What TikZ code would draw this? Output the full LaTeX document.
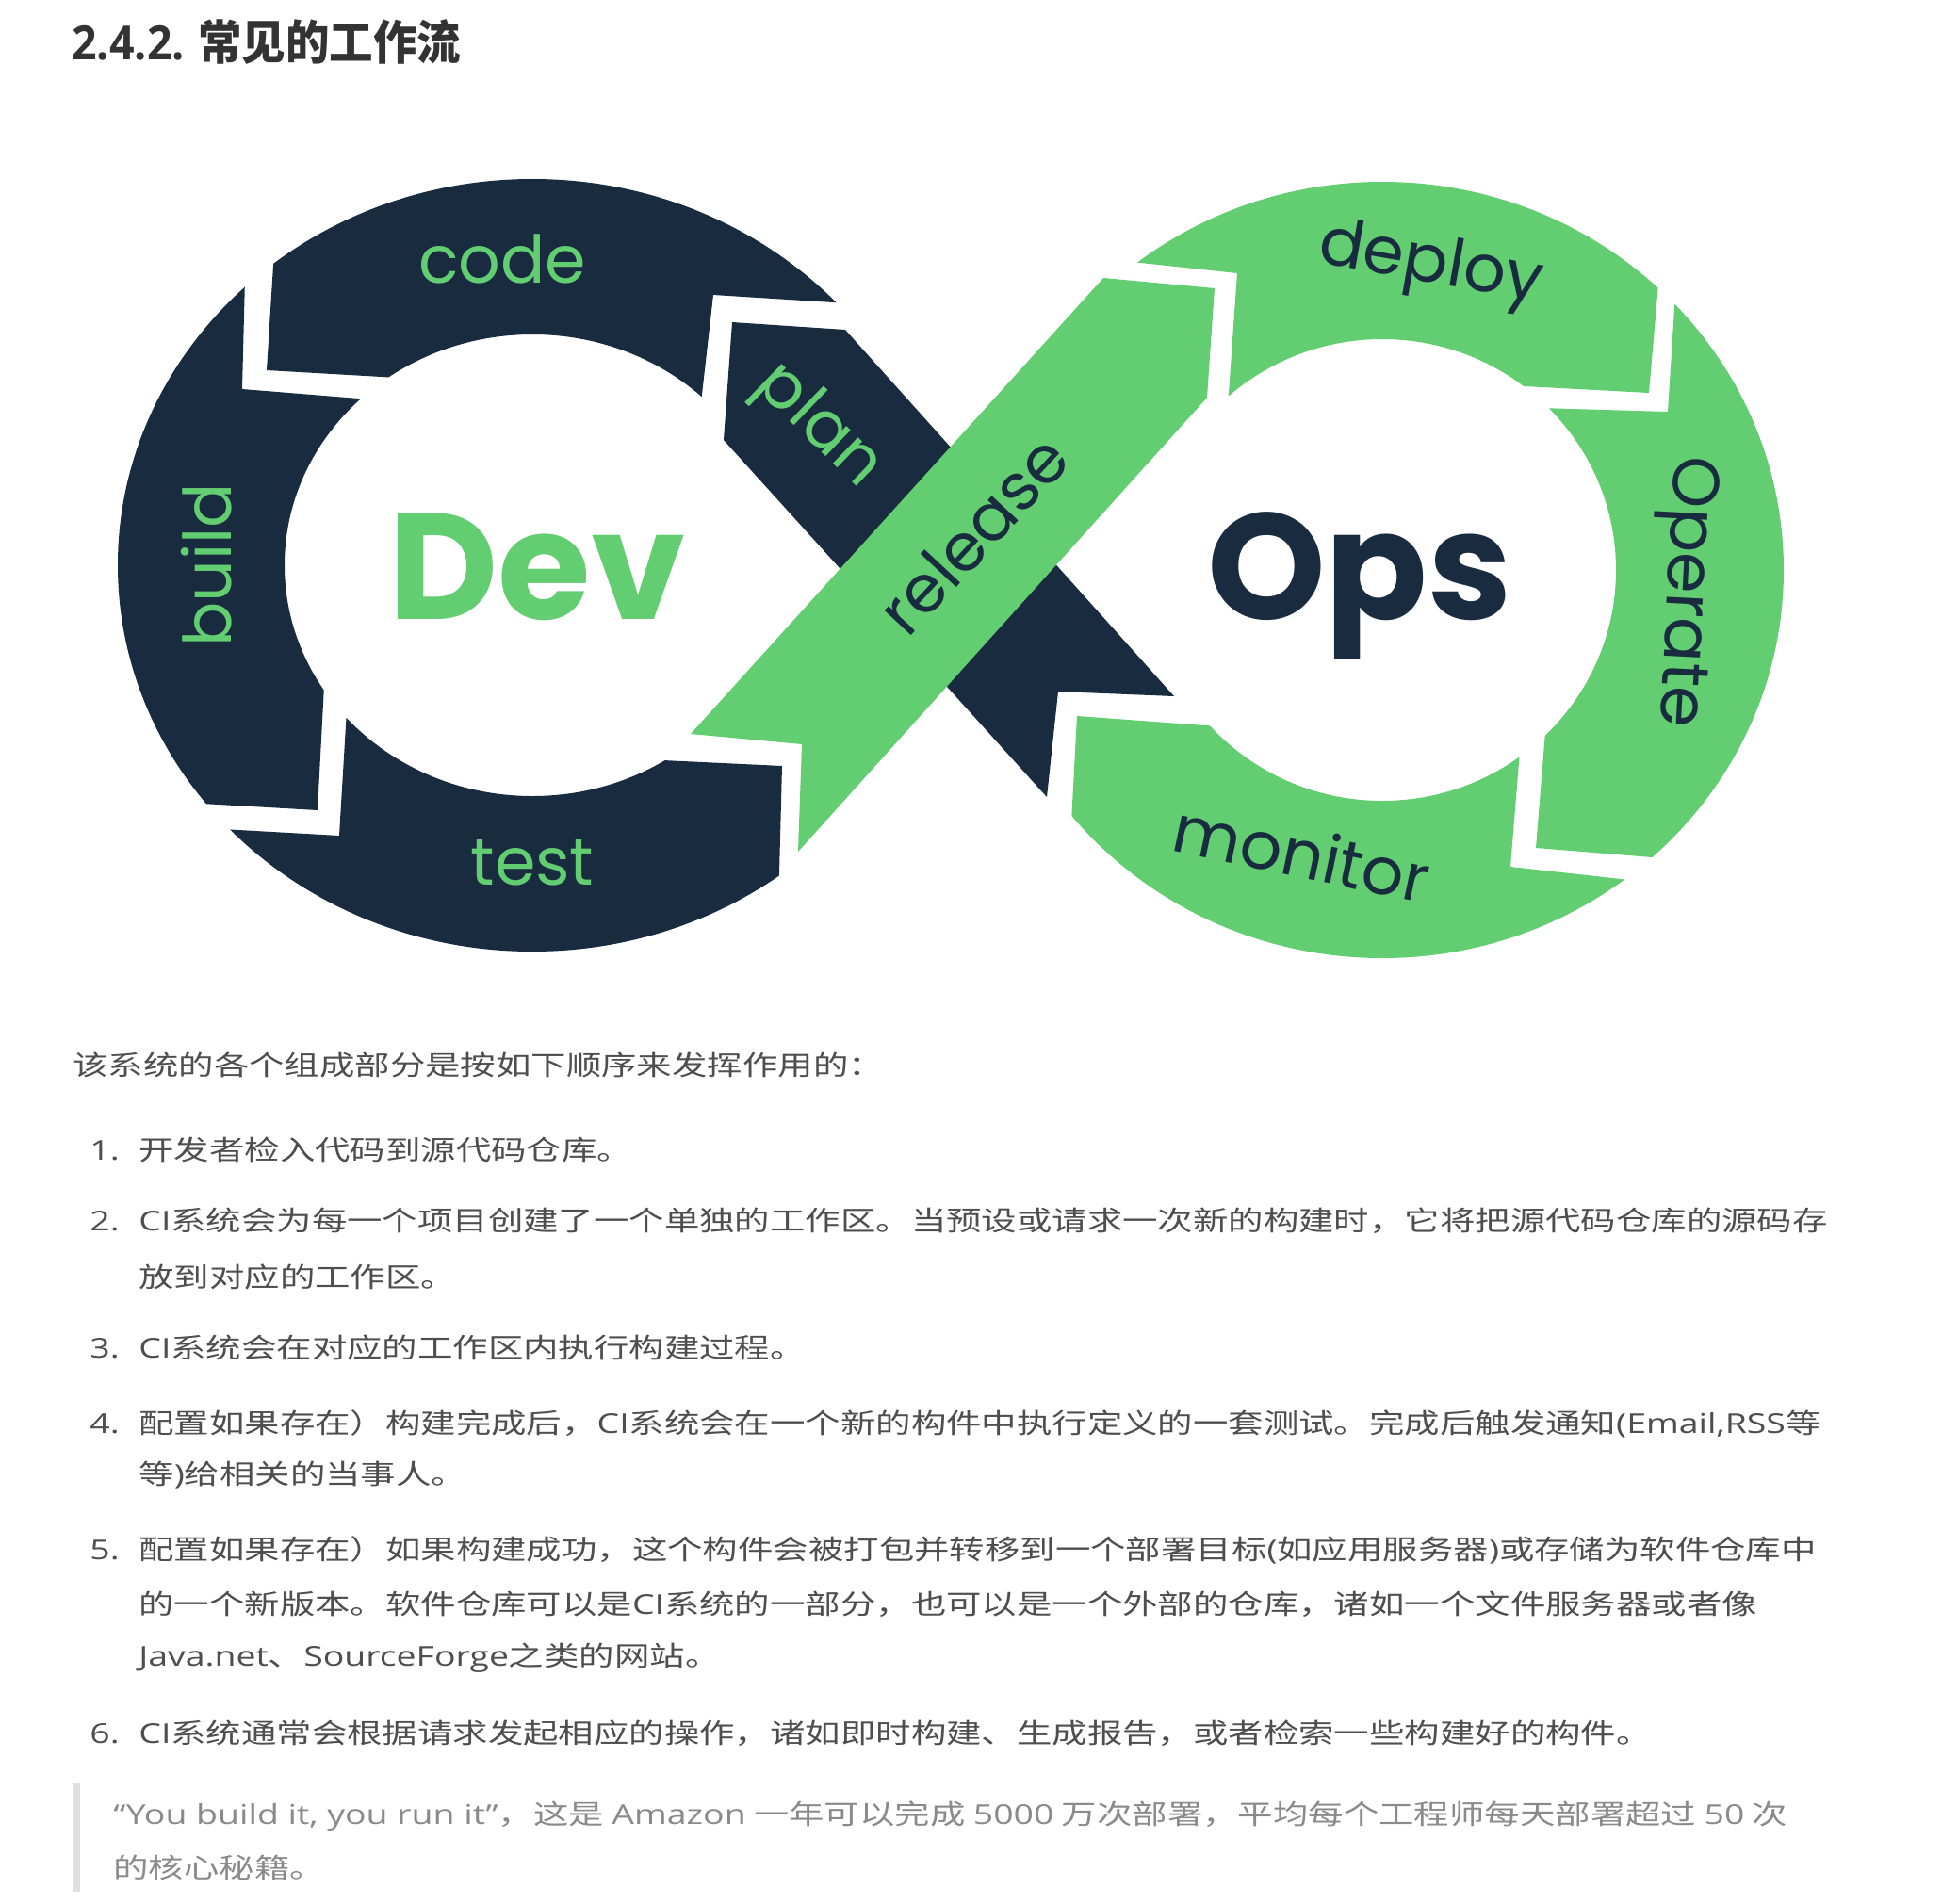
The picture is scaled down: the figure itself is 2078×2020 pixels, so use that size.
\documentclass[tikz,border=0pt]{standalone}
\usepackage{fontspec}
\usepackage{tikz}
\usetikzlibrary{positioning}
\newfontfamily\cjk{Noto Sans CJK SC}
\newfontfamily\opens{Open Sans}
\newfontfamily\pop{Poppins}
\definecolor{devnavy}{RGB}{25,43,63}
\definecolor{opsgreen}{RGB}{98,205,113}
\definecolor{headgray}{RGB}{51,51,51}
\definecolor{bodygray}{RGB}{78,78,78}
\definecolor{quotegray}{RGB}{138,138,138}
\definecolor{bargray}{RGB}{224,224,224}
\newcommand{\wide}[1]{\scalebox{1.29}[1]{#1}}
\newcommand{\en}[1]{{\opens #1}}
\tikzstyle{stage} = [inner sep=0, font=\pop\fontsize{35}{40}\selectfont]
\tikzstyle{big} = [inner sep=0, anchor=base, font=\pop\bfseries\fontsize{80}{90}\selectfont]
\tikzstyle{heading} = [anchor=base west, inner sep=0, text=headgray, font=\cjk\bfseries\fontsize{25}{28}\selectfont]
\tikzstyle{body} = [anchor=base west, inner sep=0, text=bodygray, font=\cjk\fontsize{14.5}{17}\selectfont]
\tikzstyle{quote} = [body, text=quotegray]

\begin{document}
\begin{tikzpicture}[x=0.5pt, y=-0.5pt]
	\useasboundingbox (0,0) rectangle (2078,2020);
	%Title
	\node [heading] (head) at (76,63) {\scalebox{0.93}[1]{{\opens\bfseries 2.4.2.} 常见的工作流}};

	%Dev ring: code, build, test
	\begin{scope}
		\clip (299,140) -- (283,393) -- (440,402) -- (565,600) -- (738,480) -- (757,313) -- (980,327) -- (980,140) -- cycle;
		\fill [devnavy, even odd rule] (565,600) ellipse [x radius=440, y radius=410] (565,600) ellipse [x radius=263, y radius=245];
	\end{scope}
	\begin{scope}
		\clip (264,140) -- (257,413) -- (430,427) -- (565,600) -- (346,690) -- (337,860) -- (40,843) -- (40,140) -- cycle;
		\fill [devnavy, even odd rule] (565,600) ellipse [x radius=440, y radius=410] (565,600) ellipse [x radius=263, y radius=245];
	\end{scope}
	\begin{scope}
		\clip (40,869) -- (360,887) -- (370,720) -- (565,600) -- (640,804) -- (830,813) -- (823,1080) -- (40,1080) -- cycle;
		\fill [devnavy, even odd rule] (565,600) ellipse [x radius=440, y radius=410] (565,600) ellipse [x radius=263, y radius=245];
	\end{scope}

	%Ops ring: deploy, operate, monitor
	\begin{scope}
		\clip (1080,265) -- (1313,290) -- (1301,460) -- (1467,605) -- (1580,408) -- (1750,417) -- (1774,140) -- (1080,140) -- cycle;
		\fill [opsgreen, even odd rule] (1467,605) ellipse [x radius=426, y radius=412] (1467,605) ellipse [x radius=248, y radius=245];
	\end{scope}
	\begin{scope}
		\clip (1789,140) -- (1770,437) -- (1600,432) -- (1467,605) -- (1643,740) -- (1630,900) -- (2000,930) -- (2000,140) -- cycle;
		\fill [opsgreen, even odd rule] (1467,605) ellipse [x radius=426, y radius=412] (1467,605) ellipse [x radius=248, y radius=245];
	\end{scope}
	\begin{scope}
		\clip (2000,964) -- (1603,920) -- (1616,760) -- (1467,605) -- (1320,773) -- (1143,760) -- (1126,1080) -- (2000,1080) -- cycle;
		\fill [opsgreen, even odd rule] (1467,605) ellipse [x radius=426, y radius=412] (1467,605) ellipse [x radius=248, y radius=245];
	\end{scope}

	%Crossing bands: plan under release
	\fill [devnavy] (777,342) -- (897,350) -- (1246,739) -- (1123,734) -- (1111,846) -- (768,467) -- cycle;
	\fill [opsgreen] (733,779) -- (851,790) -- (847,904) -- (1281,422) -- (1289,306) -- (1171,295) -- cycle;

	%Stage labels
	\node [stage, anchor=base, text=opsgreen] (code) at (533,300) {code};
	\node [stage, anchor=base, text=opsgreen, rotate=90] (build) at (245,600) {build};
	\node [stage, anchor=base, text=opsgreen] (test) at (565,939) {test};
	\node [stage, text=opsgreen, rotate=-44] (plan) at (868,453) {plan};
	\node [stage, text=devnavy, rotate=47] (release) at (1033,567) {release};
	\node [stage, text=devnavy, rotate=-10] (deploy) at (1518,283) {deploy};
	\node [stage, text=devnavy, rotate=-93] (operate) at (1785,628) {Operate};
	\node [stage, text=devnavy, rotate=-12] (monitor) at (1382,905) {monitor};
	\node [big, text=opsgreen] (Dev) at (570,657) {Dev};
	\node [big, text=devnavy] (Ops) at (1443,657) {Ops};

	%Text below the figure
	\node [body] (intro) at (77,1141) {\wide{该系统的各个组成部分是按如下顺序来发挥作用的：}};
	\node [body] (n1) at (95,1231) {\wide{\en{1.}}};
	\node [body] (t1) at (147,1231) {\wide{开发者检入代码到源代码仓库。}};
	\node [body] (n2) at (95,1306) {\wide{\en{2.}}};
	\node [body] (t2) at (147,1306) {\wide{\en{CI}系统会为每一个项目创建了一个单独的工作区。当预设或请求一次新的构建时，它将把源代码仓库的源码存}};
	\node [body] (t2b) at (147,1366) {\wide{放到对应的工作区。}};
	\node [body] (n3) at (95,1441) {\wide{\en{3.}}};
	\node [body] (t3) at (147,1441) {\wide{\en{CI}系统会在对应的工作区内执行构建过程。}};
	\node [body] (n4) at (95,1521) {\wide{\en{4.}}};
	\node [body] (t4) at (147,1521) {\wide{配置如果存在）构建完成后，\en{CI}系统会在一个新的构件中执行定义的一套测试。完成后触发通知\en{(Email,RSS}等}};
	\node [body] (t4b) at (147,1575) {\wide{等\en{)}给相关的当事人。}};
	\node [body] (n5) at (95,1655) {\wide{\en{5.}}};
	\node [body] (t5) at (147,1655) {\wide{配置如果存在）如果构建成功，这个构件会被打包并转移到一个部署目标\en{(}如应用服务器\en{)}或存储为软件仓库中}};
	\node [body] (t5b) at (147,1713) {\wide{的一个新版本。软件仓库可以是\en{CI}系统的一部分，也可以是一个外部的仓库，诸如一个文件服务器或者像}};
	\node [body] (t5c) at (147,1768) {\wide{\en{Java.net}、\en{SourceForge}之类的网站。}};
	\node [body] (n6) at (95,1850) {\wide{\en{6.}}};
	\node [body] (t6) at (147,1850) {\wide{\en{CI}系统通常会根据请求发起相应的操作，诸如即时构建、生成报告，或者检索一些构建好的构件。}};

	%Quote block
	\draw [bargray, line width=4pt] (81,1893) -- (81,2008);
	\node [quote] (q1) at (120,1936) {\wide{\en{“You build it, you run it”}，这是 \en{Amazon} 一年可以完成 \en{5000} 万次部署，平均每个工程师每天部署超过 \en{50} 次}};
	\node [quote] (q2) at (120,1993) {\wide{的核心秘籍。}};
\end{tikzpicture}
\end{document}
